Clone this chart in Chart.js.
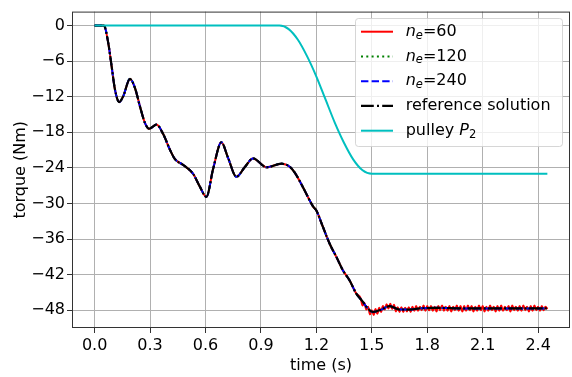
<!DOCTYPE html>
<html>
<head>
<meta charset="utf-8">
<script src="https://cdn.jsdelivr.net/npm/chart.js@4.4.0/dist/chart.umd.min.js"></script>
<style>
  html, body { margin: 0; padding: 0; background: #fff; }
  #wrap { width: 572px; height: 377px; }
</style>
</head>
<body>
<div id="wrap"><canvas id="torqueChart" width="572" height="377"></canvas></div>
<script>
// torque at the pulley, all meshes + reference (time in s, torque in Nm)
const refT = [0, 0.05, 0.074, 0.092, 0.11, 0.133, 0.155, 0.191, 0.218, 0.245,
  0.272, 0.295, 0.335, 0.371, 0.407, 0.434, 0.479, 0.533, 0.57, 0.605,
  0.641, 0.686, 0.722, 0.767, 0.812, 0.857, 0.93, 1.011, 1.056, 1.083,
  1.128, 1.182, 1.2, 1.236, 1.272, 1.308, 1.344, 1.38, 1.416, 1.452,
  1.47, 1.506, 1.551, 1.596, 1.65, 1.7, 1.758, 1.85, 2.0, 2.15, 2.3, 2.45];
const refV = [0, 0, -3.0, -6.9, -10.8, -12.9, -11.9, -9.0, -10.5, -13.6,
  -16.4, -17.4, -16.7, -18.3, -20.9, -22.5, -23.5, -25.0, -27.2, -28.9,
  -24.2, -19.7, -22.3, -25.5, -23.9, -22.4, -23.9, -23.3, -23.8, -24.8,
  -27.3, -30.5, -31.2, -34.0, -36.8, -39.0, -41.3, -43.0, -45.2, -46.6,
  -47.4, -48.3, -47.9, -47.3, -47.9, -47.9, -47.7, -47.6, -47.7, -47.7, -47.7, -47.7];

// coarse mesh (ne=60) gets noisy after the drop, sampled every 0.01 s from 1.44 s
const ne60TailStart = 1.44;
const ne60Tail = [
  -46.0, -47.2, -46.8, -47.9, -47.4, -48.7, -48.0, -48.8, -47.8, -48.6,
  -47.6, -48.3, -47.3, -47.9, -47.0, -47.7, -46.9, -47.8, -47.1, -48.2,
  -47.5, -48.3, -47.5, -48.3, -47.6, -48.2, -47.5, -48.3, -47.4, -48.1,
  -47.3, -48.1, -47.4, -48.0, -47.2, -48.1, -47.3, -48.0, -47.3, -48.1,
  -47.4, -48.2, -47.3, -48.0, -47.2, -48.1, -47.4, -48.1, -47.3, -48.2,
  -47.4, -48.0, -47.2, -48.1, -47.3, -48.2, -47.3, -48.1, -47.2, -48.0,
  -47.3, -48.2, -47.4, -48.1, -47.2, -48.0, -47.3, -48.2, -47.4, -48.1,
  -47.2, -48.0, -47.4, -48.2, -47.3, -48.1, -47.2, -48.1, -47.4, -48.0,
  -47.3, -48.2, -47.2, -48.0, -47.4, -48.1, -47.3, -48.1, -47.2, -48.0,
  -47.4, -48.2, -47.3, -48.1, -47.2, -48.0, -47.4, -48.1, -47.3, -48.0,
  -47.4, -47.8];

// pulley P2 curve
const pulleyT = [0, 1.0, 1.05, 1.1, 1.15, 1.2, 1.25, 1.3, 1.35, 1.4, 1.45, 1.5, 2.45];
const pulleyV = [0, 0, -0.6, -2.4, -5.2, -8.6, -12.5, -16.4, -19.8, -22.6, -24.4, -25.0, -25.0];

const xTicks = [0, 0.3, 0.6, 0.9, 1.2, 1.5, 1.8, 2.1, 2.4];
const yTicks = [0, -6, -12, -18, -24, -30, -36, -42, -48];

// legend entries: pieces of text, italic / subscript flags
const legendLabels = [
  [{ t: "n", it: true }, { t: "e", it: true, sub: true }, { t: "=60" }],
  [{ t: "n", it: true }, { t: "e", it: true, sub: true }, { t: "=120" }],
  [{ t: "n", it: true }, { t: "e", it: true, sub: true }, { t: "=240" }],
  [{ t: "reference solution" }],
  [{ t: "pulley " }, { t: "P", it: true }, { t: "2", sub: true }],
];

const FONT = "'DejaVu Sans', sans-serif";

const toPts = (ts, vs) => ts.map((t, i) => ({ x: t, y: vs[i] }));
const refPts = toPts(refT, refV);
const ne60Pts = refPts.filter((p) => p.x < ne60TailStart).concat(
  ne60Tail.map((v, i) => ({ x: +(ne60TailStart + i * 0.01).toFixed(2), y: v }))
);

function drawRich(ctx, parts, x, y) {
  let cx = x;
  parts.forEach((p) => {
    const size = p.sub ? 11.5 : 16;
    ctx.font = (p.it ? "oblique " : "") + size + "px " + FONT;
    ctx.fillStyle = "#000";
    ctx.textBaseline = "middle";
    ctx.fillText(p.t, cx, p.sub ? y + 4 : y);
    cx += ctx.measureText(p.t).width;
  });
}

const framePlugin = {
  id: "frame",
  afterDatasetsDraw(chart) {
    const { ctx, chartArea: a } = chart;
    ctx.save();
    ctx.strokeStyle = "#333";
    ctx.lineWidth = 1;
    ctx.strokeRect(a.left + 0.5, a.top + 0.5, a.right - a.left - 1, a.bottom - a.top - 1);
    ctx.restore();
  },
};

const legendPlugin = {
  id: "boxLegend",
  afterDraw(chart) {
    const ctx = chart.ctx;
    const x0 = 355.5, y0 = 18.5, w = 207, h = 128, r = 3;
    ctx.save();
    ctx.beginPath();
    ctx.moveTo(x0 + r, y0);
    ctx.arcTo(x0 + w, y0, x0 + w, y0 + h, r);
    ctx.arcTo(x0 + w, y0 + h, x0, y0 + h, r);
    ctx.arcTo(x0, y0 + h, x0, y0, r);
    ctx.arcTo(x0, y0, x0 + w, y0, r);
    ctx.closePath();
    ctx.fillStyle = "rgba(255,255,255,0.8)";
    ctx.fill();
    ctx.strokeStyle = "rgba(204,204,204,0.8)";
    ctx.lineWidth = 1;
    ctx.stroke();

    chart.data.datasets.forEach((ds, i) => {
      const y = 31.7 + i * 24.75;
      ctx.strokeStyle = ds.borderColor;
      ctx.lineWidth = ds.borderWidth;
      ctx.setLineDash(ds.legendDash || ds.borderDash || []);
      ctx.beginPath();
      ctx.moveTo(361, y);
      ctx.lineTo(393, y);
      ctx.stroke();
      ctx.setLineDash([]);
      drawRich(ctx, legendLabels[i], 405.7, y);
    });
    ctx.restore();
  },
};

const lineBase = {
  pointRadius: 0,
  borderWidth: 2,
  fill: false,
  cubicInterpolationMode: "monotone",
};

const ctx = document.getElementById("torqueChart").getContext("2d");
new Chart(ctx, {
  type: "line",
  data: {
    datasets: [
      { ...lineBase, label: "ne=60", data: ne60Pts, borderColor: "#ff0000", order: 5 },
      { ...lineBase, label: "ne=120", data: refPts, borderColor: "#008000", borderDash: [2, 3.3], order: 4 },
      { ...lineBase, label: "ne=240", data: refPts, borderColor: "#0000ff", borderDash: [7.4, 3.2], order: 3 },
      { ...lineBase, label: "reference solution", data: refPts, borderColor: "#000000", borderWidth: 2.2,
        borderDash: [14, 2.2, 2, 2.2], legendDash: [12.8, 3.2, 2, 3.2], order: 2 },
      { ...lineBase, label: "pulley P2", data: toPts(pulleyT, pulleyV), borderColor: "#00bfbf", order: 1 },
    ],
  },
  options: {
    responsive: false,
    animation: false,
    devicePixelRatio: 1,
    layout: { padding: { top: 10, right: 2, left: 0, bottom: 0 } },
    plugins: { legend: { display: false }, tooltip: { enabled: false } },
    scales: {
      x: {
        type: "linear",
        min: -0.1225,
        max: 2.5725,
        afterBuildTicks: (s) => { s.ticks = xTicks.map((v) => ({ value: v })); },
        afterFit: (s) => { s.height = 49; },
        ticks: {
          autoSkip: false,
          maxRotation: 0,
          padding: 3,
          color: "#000",
          font: { family: FONT, size: 16 },
          callback: (v) => v.toFixed(1),
        },
        grid: { color: "#b0b0b0", lineWidth: 1, tickLength: 5, tickColor: "#333" },
        border: { display: false },
        title: {
          display: true,
          text: "time (s)",
          color: "#000",
          font: { family: FONT, size: 16 },
          padding: { top: 0, bottom: 2 },
        },
      },
      y: {
        type: "linear",
        min: -51.0,
        max: 2.35,
        afterBuildTicks: (s) => { s.ticks = yTicks.map((v) => ({ value: v })); },
        afterFit: (s) => { s.width = 72; },
        ticks: {
          autoSkip: false,
          padding: 2,
          color: "#000",
          font: { family: FONT, size: 16 },
          callback: (v) => (v === 0 ? "0" : "\u2212" + Math.abs(v)),
        },
        grid: { color: "#b0b0b0", lineWidth: 1, tickLength: 5, tickColor: "#333" },
        border: { display: false },
        title: {
          display: true,
          text: "torque (Nm)",
          color: "#000",
          font: { family: FONT, size: 16 },
          padding: { top: 11, bottom: 0 },
        },
      },
    },
  },
  plugins: [framePlugin, legendPlugin],
});
</script>
</body>
</html>
